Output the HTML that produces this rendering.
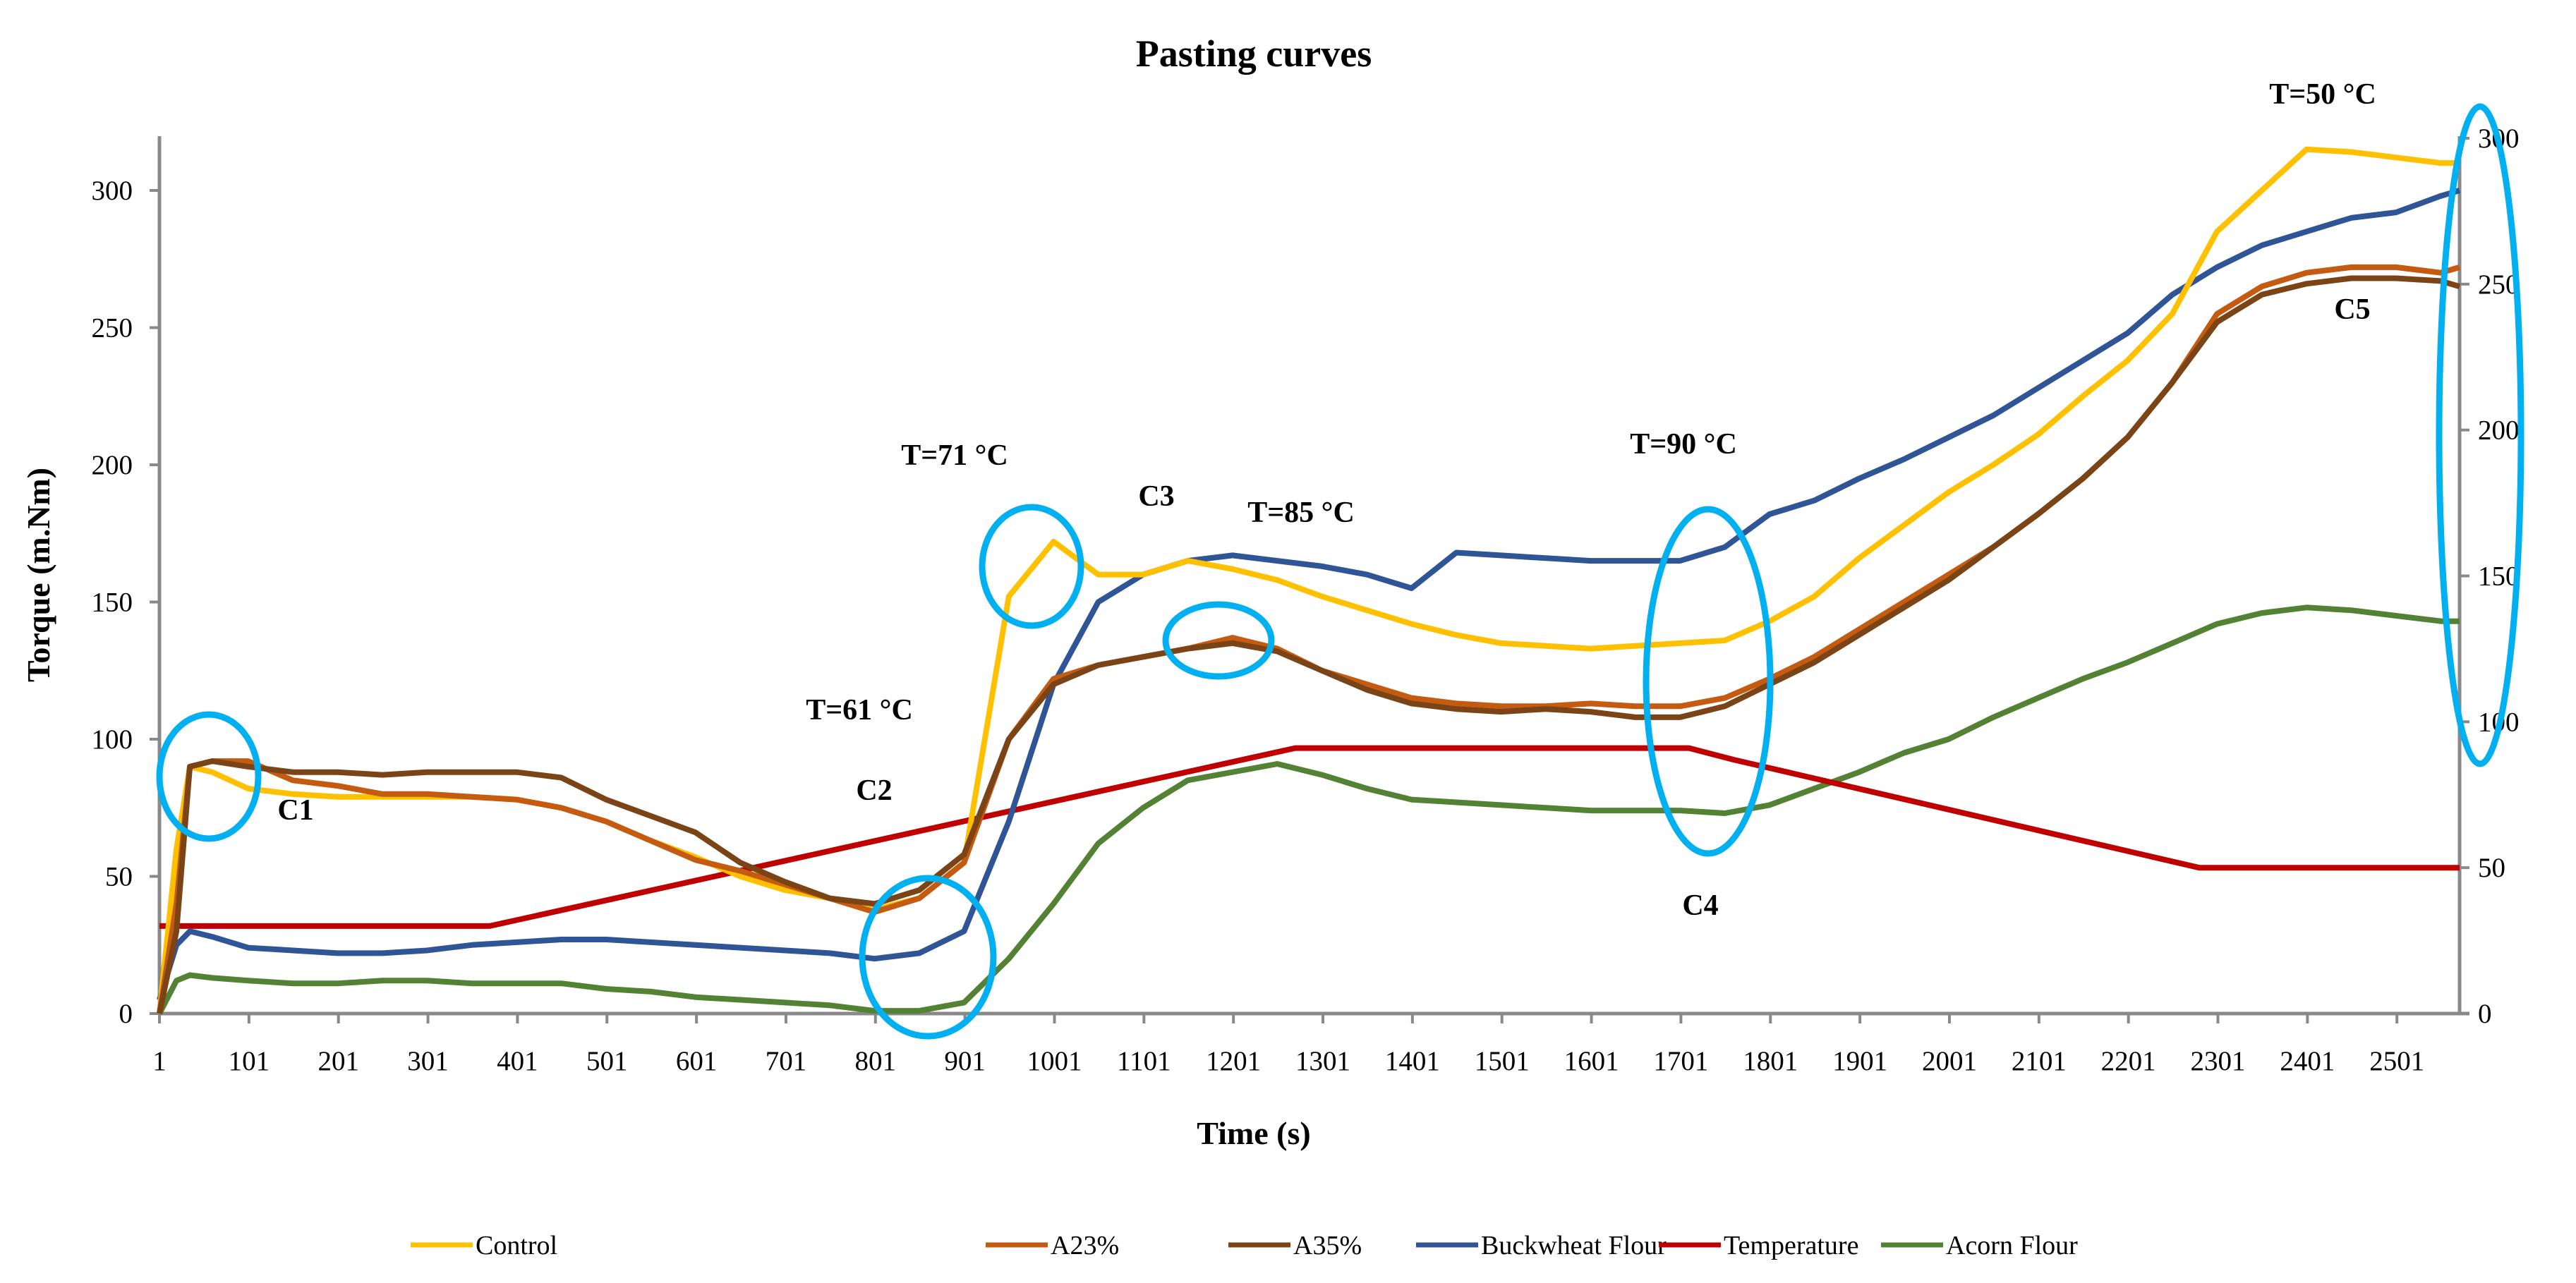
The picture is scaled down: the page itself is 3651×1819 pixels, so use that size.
<!DOCTYPE html>
<html><head><meta charset="utf-8"><style>
html,body{margin:0;padding:0;background:#fff;}
svg{display:block;font-family:"Liberation Serif",serif;}
</style></head><body>
<svg id="chart" width="3651" height="1819" viewBox="0 0 3651 1819" xmlns="http://www.w3.org/2000/svg">
<text x="1777" y="94" text-anchor="middle" font-size="54" font-weight="bold">Pasting curves</text>
<g id="axes"></g>
<g id="series"></g>
<g id="annot"></g>
<text x="1777" y="1622" text-anchor="middle" font-size="46" font-weight="bold">Time (s)</text>
<text transform="translate(70,815) rotate(-90)" text-anchor="middle" font-size="46" font-weight="bold">Torque (m.Nm)</text>
<g id="legend"></g>
</svg>
<script>
const times = [1,20,35,60,100,150,200,250,300,350,400,450,500,550,600,650,700,750,800,850,900,950,1000,1050,1100,1150,1200,1250,1300,1350,1400,1450,1500,1550,1600,1650,1700,1750,1800,1850,1900,1950,2000,2050,2100,2150,2200,2250,2300,2350,2400,2450,2500,2550,2571];
const controlVals = [0,60,90,88,82,80,79,79,79,79,78,75,70,63,57,50,45,42,38,42,55,152,172,160,160,165,162,158,152,147,142,138,135,134,133,134,135,136,143,152,166,178,190,200,211,225,238,255,285,300,315,314,312,310,310];
const a23Vals = [0,40,90,92,92,85,83,80,80,79,78,75,70,63,56,52,47,42,37,42,55,100,122,127,130,133,137,133,125,120,115,113,112,112,113,112,112,115,122,130,140,150,160,170,182,195,210,230,255,265,270,272,272,270,272];
const a35Vals = [0,30,90,92,90,88,88,87,88,88,88,86,78,72,66,55,48,42,40,45,58,100,120,127,130,133,135,132,125,118,113,111,110,111,110,108,108,112,120,128,138,148,158,170,182,195,210,230,252,262,266,268,268,267,265];
const buckVals = [5,25,30,28,24,23,22,22,23,25,26,27,27,26,25,24,23,22,20,22,30,70,120,150,160,165,167,165,163,160,155,168,167,166,165,165,165,170,182,187,195,202,210,218,228,238,248,262,272,280,285,290,292,298,300];
const acornVals = [0,12,14,13,12,11,11,12,12,11,11,11,9,8,6,5,4,3,1,1,4,20,40,62,75,85,88,91,87,82,78,77,76,75,74,74,74,73,76,82,88,95,100,108,115,122,128,135,142,146,148,147,145,143,143];
const tempTimes = [1,370,1270,1710,1760,2280,2571];
const tempVals = [30,30,91,91,87,50,50];
const xTicks = [1,101,201,301,401,501,601,701,801,901,1001,1101,1201,1301,1401,1501,1601,1701,1801,1901,2001,2101,2201,2301,2401,2501];
const yTicks = [0,50,100,150,200,250,300];
const y2Ticks = [0,50,100,150,200,250,300];

const NS="http://www.w3.org/2000/svg";
const X0=226,X1=3486,Y0=1437;
const x=t=>X0+(t-1)*(X1-X0)/2570;
const y=v=>Y0-v*(Y0-270)/300;
const y2=v=>Y0-v*(Y0-196)/300;
function mk(tag,attrs,parent,txt){const e=document.createElementNS(NS,tag);for(const k in attrs)e.setAttribute(k,attrs[k]);if(txt!==undefined)e.textContent=txt;parent.appendChild(e);return e;}
const axes=document.getElementById('axes');
let e;
e=mk('line',{x1:X0,y1:193,x2:X0,y2:Y0,stroke:'#898989','stroke-width':5},axes);


e=mk('line',{x1:X1,y1:193,x2:X1,y2:Y0,stroke:'#898989','stroke-width':5},axes);


e=mk('line',{x1:X0,y1:Y0,x2:X1+14,y2:Y0,stroke:'#898989','stroke-width':5},axes);


yTicks.forEach(v=>{
 mk('line',{x1:X0-14,y1:y(v),x2:X0,y2:y(v),stroke:'#898989','stroke-width':4},axes);
 e=mk('text',{x:188,y:y(v)+13,'text-anchor':'end','font-size':39},axes,String(v));
 
 
});
y2Ticks.forEach(v=>{
 mk('line',{x1:X1,y1:y2(v),x2:X1+14,y2:y2(v),stroke:'#898989','stroke-width':4},axes);
 e=mk('text',{x:3512,y:y2(v)+13,'text-anchor':'start','font-size':39},axes,String(v));
 
 
});
xTicks.forEach(t=>{
 mk('line',{x1:x(t),y1:Y0,x2:x(t),y2:Y0+14,stroke:'#898989','stroke-width':4},axes);
 e=mk('text',{x:x(t),y:1517,'text-anchor':'middle','font-size':39},axes,String(t));
 
 
});
const ser=document.getElementById('series');
function line(ts,vs,sc,color,name){
 const d=ts.map((t,i)=>(i?'L':'M')+x(t).toFixed(1)+','+sc(vs[i]).toFixed(1)).join('');
 const p=mk('path',{d:d,fill:'none',stroke:color,'stroke-width':8,'stroke-linejoin':'round'},ser);
 
 
}
line(times,acornVals,y,'#548235','series-acorn-flour');
line(tempTimes,tempVals,y2,'#c00000','series-temperature');
line(times,buckVals,y,'#2f5597','series-buckwheat-flour');
line(times,controlVals,y,'#ffc000','series-control');
line(times,a23Vals,y,'#c55a11','series-a23');
line(times,a35Vals,y,'#7b4416','series-a35');

const an=document.getElementById('annot');
[[296,1101,70,88],[1315,1357,93,112],[1462,803,70,84],[1727,908,75,51],[2421,966,88,244],[3515,617,58,466]].forEach(c=>{
 e=mk('ellipse',{cx:c[0],cy:c[1],rx:c[2],ry:c[3],fill:'none',stroke:'#00b0f0','stroke-width':9},an);
 
 
});
[['C1',419,1148],['T=61 °C',1218,1006],['C2',1239,1120],['T=71 °C',1353,645],['C3',1639,703],['T=85 °C',1844,726],['T=90 °C',2386,629],['C4',2410,1283],['T=50 °C',3292,133],['C5',3334,438]].forEach(a=>{
 e=mk('text',{x:a[1],y:a[2]+14,'text-anchor':'middle','font-size':42,'font-weight':'bold'},an,a[0]);
 
 
});
const lg=document.getElementById('legend');
[['Control','#ffc000',582],['A23%','#c55a11',1397],['A35%','#7b4416',1741],['Buckwheat Flour','#2f5597',2007],['Temperature','#c00000',2351],['Acorn Flour','#548235',2666]].forEach(l=>{
 const g=mk('g',{},lg);
 
 
 mk('line',{x1:l[2],y1:1765,x2:l[2]+88,y2:1765,stroke:l[1],'stroke-width':7},g);
 mk('text',{x:l[2]+92,y:1778,'font-size':38},g,l[0]);
});
</script>
</body></html>
